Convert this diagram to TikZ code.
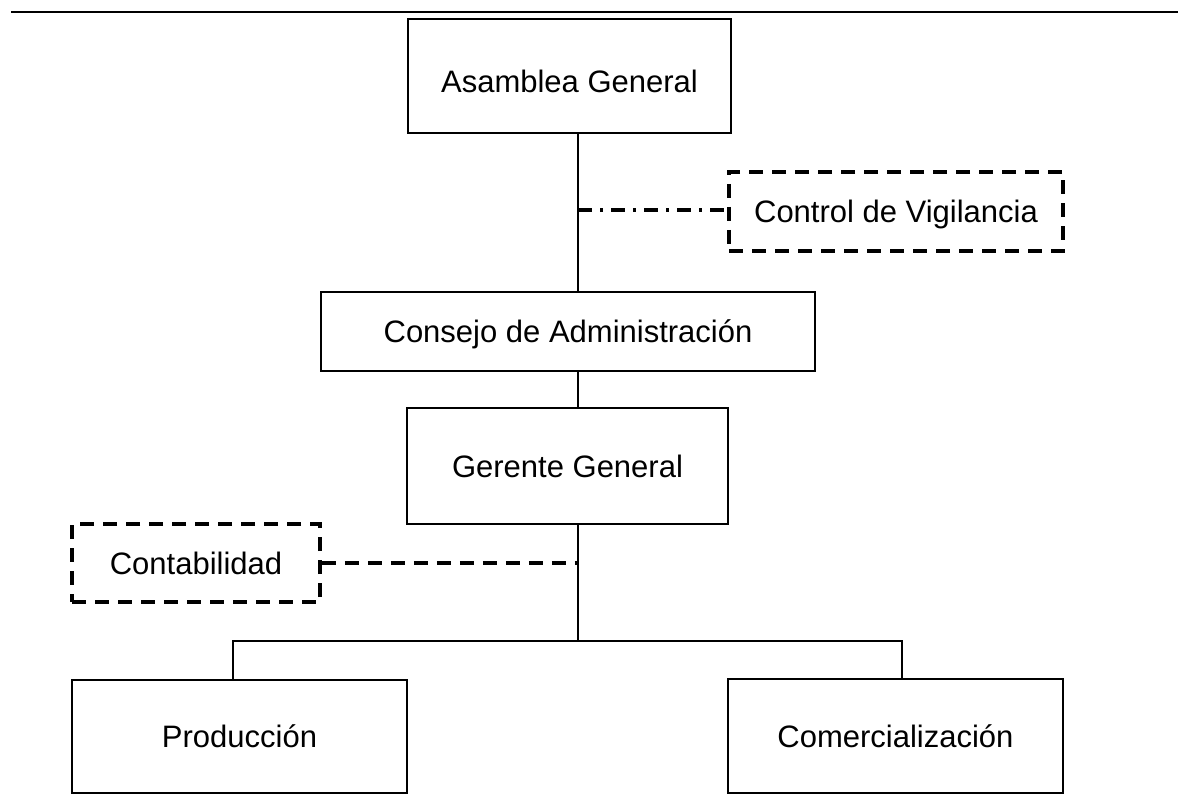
\documentclass[tikz,border=0pt]{standalone}
\usepackage{fontspec}
\setmainfont{Liberation Sans}
\begin{document}
\begin{tikzpicture}[x=1pt,y=-1pt,
  box/.style={draw, line width=2.3pt, inner sep=0pt, text height=22pt, text depth=0pt,
    font=\fontsize{31}{37}\selectfont},
  dbox/.style={box, line width=3.6pt, dash pattern=on 14pt off 9pt},
  link/.style={line width=2.4pt},
  dlink/.style={line width=3.6pt, dash pattern=on 14pt off 9pt},
  ddlink/.style={line width=3.2pt, dash pattern=on 14pt off 8pt on 3pt off 8pt},
  rule/.style={line width=2.4pt}]
\useasboundingbox (0,0) rectangle (1178,805);
\coordinate (rl) at (11,12);
\coordinate (rr) at (1178,12);
\draw[rule] (rl) -- (rr);

\node[box, minimum width=323pt, minimum height=114pt, text height=34pt] (asam) at (569.5,76) {Asamblea General};
\node[dbox, minimum width=334pt, minimum height=79pt] (ctrl) at (896,211.5) {Control de Vigilancia};
\node[box, minimum width=494pt, minimum height=79pt] (cons) at (568,331.5) {Consejo de Administración};
\node[box, minimum width=321pt, minimum height=116pt] (ger) at (567.5,466) {Gerente General};
\node[dbox, minimum width=248pt, minimum height=78pt] (cont) at (196,563) {Contabilidad};
\node[box, minimum width=335pt, minimum height=113pt] (prod) at (239.5,736.5) {Producción};
\node[box, minimum width=335pt, minimum height=114pt] (com) at (895.5,736) {Comercialización};

\coordinate (mx) at (578,0);
\coordinate (j1) at (578,210);
\coordinate (j2) at (578,563);
\coordinate (br) at (578,641);
\coordinate (pl) at (233,641);
\coordinate (pr) at (902,641);

\draw[link] (asam.south -| mx) -- (cons.north -| mx);
\draw[link] (cons.south -| mx) -- (ger.north -| mx);
\draw[link] (ger.south -| mx) -- (br);
\draw[link] (prod.north -| pl) -- (pl) -- (pr) -- (com.north -| pr);
\draw[ddlink] (j1) -- (j1 -| ctrl.west);
\draw[dlink] (cont.east) -- (j2);
\end{tikzpicture}
\end{document}
